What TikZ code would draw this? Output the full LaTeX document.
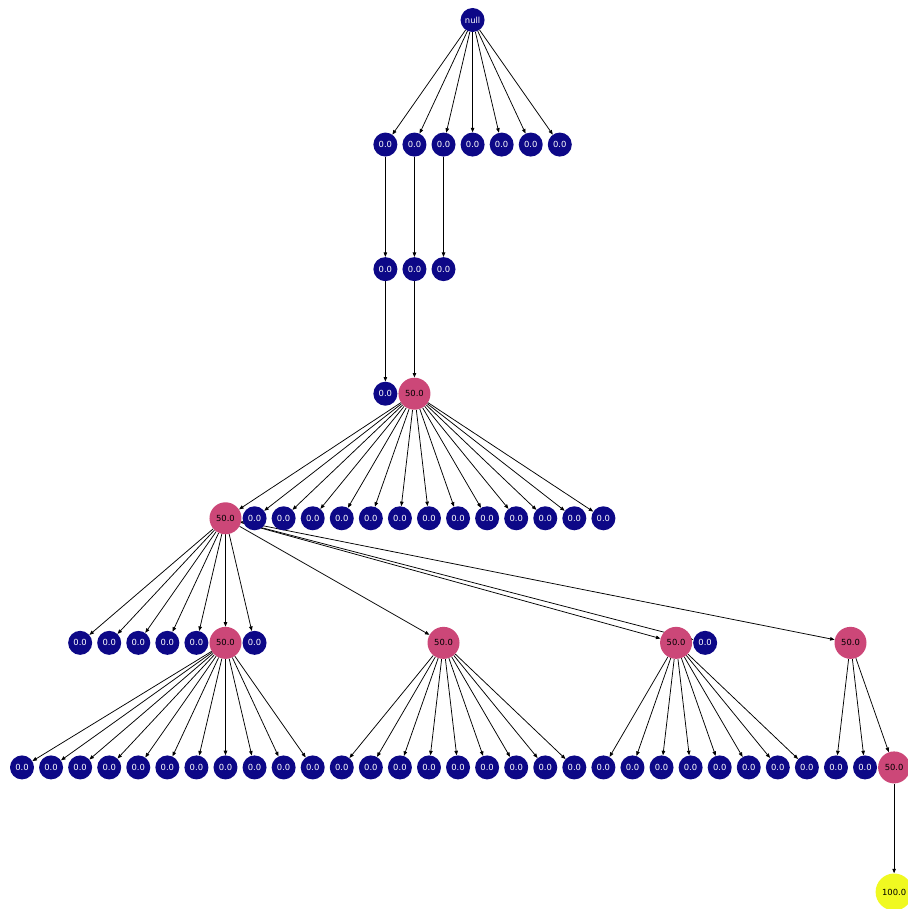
\documentclass[tikz,border=0pt]{standalone}
\usepackage{fontspec}
\setmainfont{DejaVu Sans}
\usetikzlibrary{arrows.meta,backgrounds}
\definecolor{pblue}{HTML}{0D0887}
\definecolor{ppink}{HTML}{CC4778}
\definecolor{pyellow}{HTML}{F0F921}
\tikzset{
  nd/.style={circle,inner sep=0pt,font=\fontsize{8.4}{9}\selectfont},
  zero/.style={nd,fill=pblue,text=white,minimum size=24pt},
  half/.style={nd,fill=ppink,text=black,minimum size=32pt},
  full/.style={nd,fill=pyellow,text=black,minimum size=37pt},
  edge/.style={-{Triangle[length=4.5pt,width=3.5pt]},line width=0.75pt,black}
}
\begin{document}
\begin{tikzpicture}[x=29.07pt,y=-124.57pt]
\useasboundingbox (-22pt,20pt) rectangle (885pt,-889pt);
% level 0
\node[zero] (r) at (15.5,0) {null};
% level 1
\foreach \i in {1,...,7} \node[zero] (a\i) at ({11.5+\i},1) {0.0};
% level 2
\foreach \i in {1,2,3} \node[zero] (b\i) at ({11.5+\i},2) {0.0};
% level 3
\node[zero] (c1) at (12.5,3) {0.0};
\node[half] (c2) at (13.5,3) {50.0};
% level 4
\node[half] (d0) at (7,4) {50.0};
\foreach \i in {1,...,13} \node[zero] (d\i) at ({7+\i},4) {0.0};
% level 5
\foreach \i in {1,...,5} \node[zero] (e\i) at ({1+\i},5) {0.0};
\node[half] (e6) at (7,5) {50.0};
\node[zero] (e7) at (8,5) {0.0};
\node[half] (e8) at (14.5,5) {50.0};
\node[half] (e9) at (22.5,5) {50.0};
\node[zero] (e10) at (23.5,5) {0.0};
\node[half] (e11) at (28.5,5) {50.0};
% level 6
\foreach \i in {0,...,29} \node[zero] (f\i) at (\i,6) {0.0};
\node[half] (f30) at (30,6) {50.0};
% level 7
\node[full] (g) at (30,7) {100.0};
\begin{pgfonlayer}{background}
\foreach \i in {1,...,7} \draw[edge] (r) -- (a\i);
\foreach \i in {1,2,3} \draw[edge] (a\i) -- (b\i);
\draw[edge] (b1) -- (c1);
\draw[edge] (b2) -- (c2);
\foreach \i in {0,...,13} \draw[edge] (c2) -- (d\i);
\foreach \i in {1,...,11} \draw[edge] (d0) -- (e\i);
\foreach \i in {0,...,10} \draw[edge] (e6) -- (f\i);
\foreach \i in {11,...,19} \draw[edge] (e8) -- (f\i);
\foreach \i in {20,...,27} \draw[edge] (e9) -- (f\i);
\foreach \i in {28,29,30} \draw[edge] (e11) -- (f\i);
\draw[edge] (f30) -- (g);
\end{pgfonlayer}
\end{tikzpicture}
\end{document}
